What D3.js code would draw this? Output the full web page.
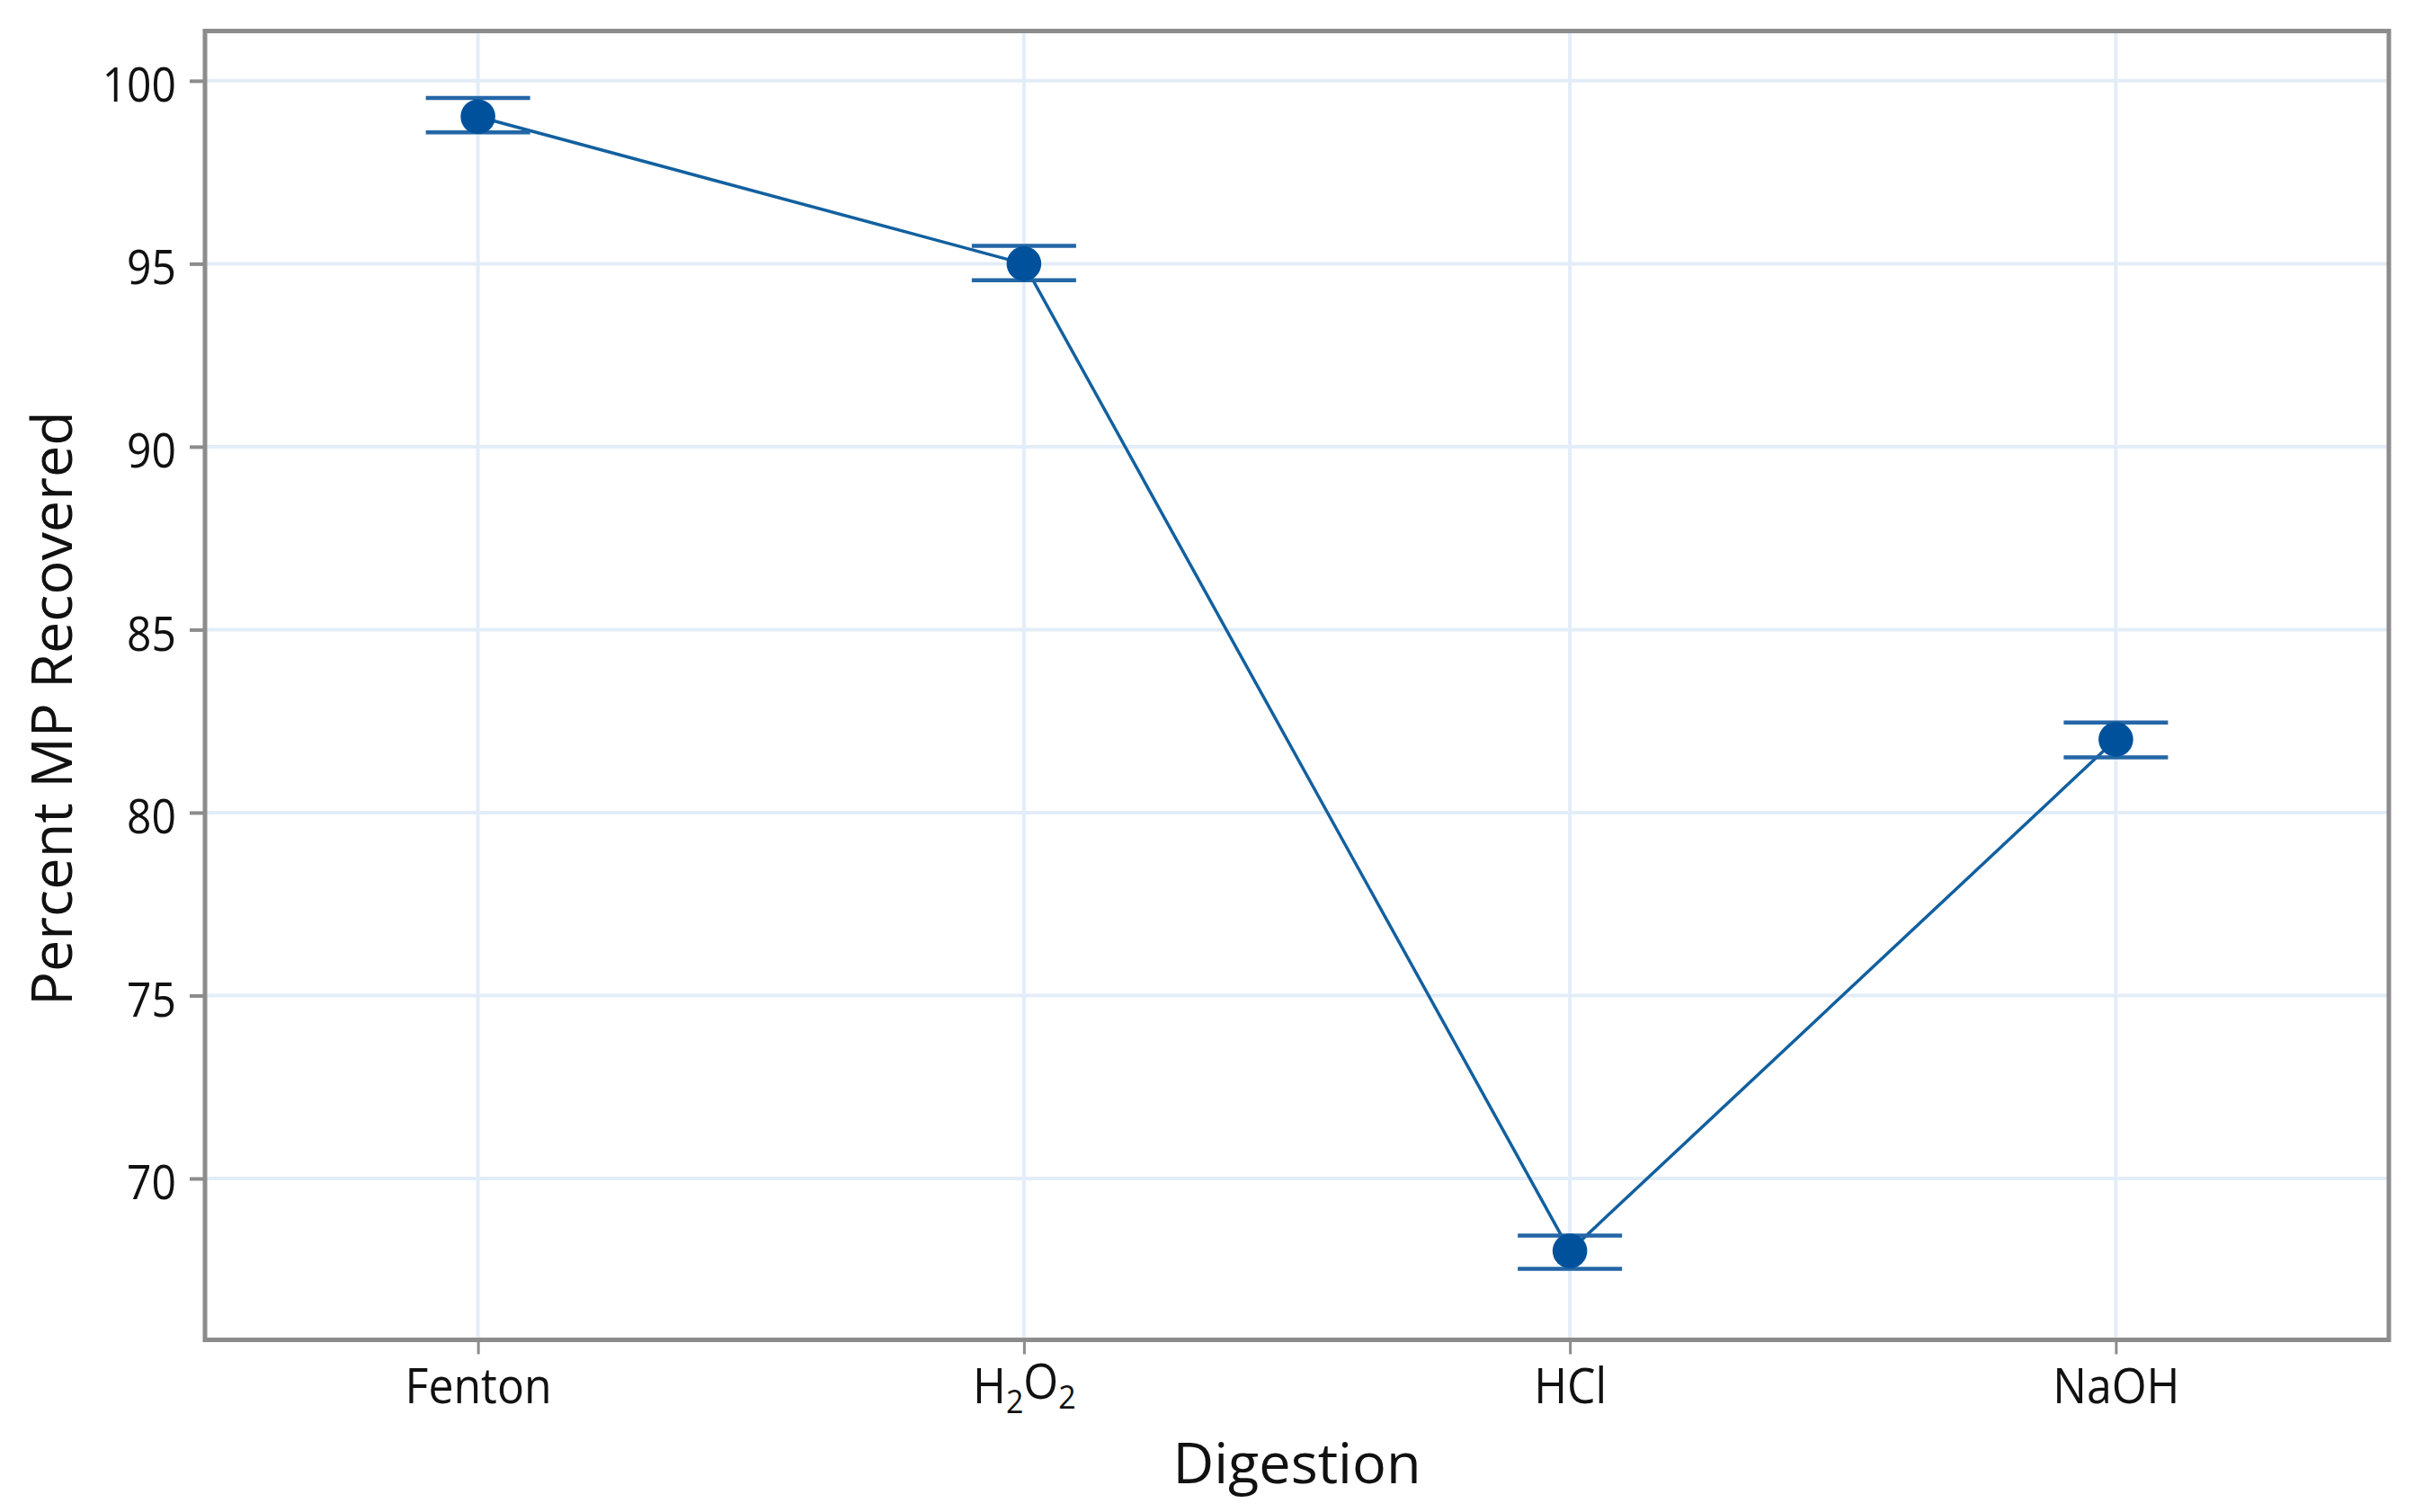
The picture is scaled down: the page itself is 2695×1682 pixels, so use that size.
<!DOCTYPE html>
<html>
<head>
<meta charset="utf-8">
<script src="https://cdn.jsdelivr.net/npm/d3@7"></script>
<style>
  body { margin: 0; background: #fff; }
  text { font-family: "Open Sans", "Noto Sans", sans-serif; fill: #111; }
</style>
</head>
<body>
<div id="plot"></div>
<script>
// Digestion methods and mean recovery (%), with error bar limits
const digestions = ['Fenton', 'H2O2', 'HCl', 'NaOH'];
const meanRecovered = [99.02, 95.0, 68.02, 82.0];
const lowerBound = [98.59, 94.55, 67.53, 81.51];
const upperBound = [99.53, 95.49, 68.44, 82.46];
const yTicks = [70, 75, 80, 85, 90, 95, 100];

const W = 2695, H = 1682;
const frame = { left: 228, right: 2657, top: 34.5, bottom: 1490.5 };

const svg = d3.select('#plot').append('svg')
  .attr('width', W)
  .attr('height', H);

svg.append('rect').attr('width', W).attr('height', H).attr('fill', '#fff');

const x = d3.scalePoint().domain(digestions).range([frame.left, frame.right]).padding(0.5);
const y = d3.scaleLinear().domain([65.59, 101.36]).range([frame.bottom, frame.top]);

const data = digestions.map((d, i) => ({
  name: d, mean: meanRecovered[i], lo: lowerBound[i], hi: upperBound[i]
}));

// grid
const grid = svg.append('g').attr('class', 'grid');
grid.selectAll('line.h')
  .data(yTicks)
  .enter().append('line')
  .attr('class', 'h')
  .attr('x1', frame.left).attr('x2', frame.right)
  .attr('y1', d => y(d)).attr('y2', d => y(d))
  .attr('stroke', '#e3edf8').attr('stroke-width', 4);
grid.selectAll('line.v')
  .data(digestions)
  .enter().append('line')
  .attr('class', 'v')
  .attr('x1', d => x(d)).attr('x2', d => x(d))
  .attr('y1', frame.top).attr('y2', frame.bottom)
  .attr('stroke', '#e3edf8').attr('stroke-width', 4);

// axes (tick text stretched a little vertically, the source font is narrow)
const yAxis = svg.append('g')
  .attr('transform', `translate(${frame.left},0)`)
  .call(d3.axisLeft(y).tickValues(yTicks).tickSize(17).tickPadding(15));
yAxis.select('.domain').remove();
yAxis.selectAll('line').attr('stroke', '#8c8c8c').attr('stroke-width', 4);
yAxis.selectAll('text')
  .attr('dy', '0.42em')
  .attr('transform', 'scale(1,1.12)')
  .style('font-size', '48px')
  .attr('fill', '#111');

const xAxis = svg.append('g')
  .attr('transform', `translate(0,${frame.bottom})`)
  .call(d3.axisBottom(x).tickSize(16).tickPadding(14));
xAxis.select('.domain').remove();
xAxis.selectAll('line').attr('stroke', '#8c8c8c').attr('stroke-width', 3);
xAxis.selectAll('text')
  .attr('transform', 'scale(1,1.08)')
  .style('font-size', '50px')
  .attr('fill', '#111')
  .each(function (d) {
    // chemical formulas: digits become subscripts
    const parts = d.match(/[A-Za-z]+|\d+/g);
    if (parts.length === 1) return;
    const t = d3.select(this).text('');
    let sub = false;
    parts.forEach(p => {
      const isNum = /\d/.test(p);
      const ts = t.append('tspan').text(p);
      if (isNum && !sub) { ts.attr('dy', '0.3em').style('font-size', '34px'); sub = true; }
      else if (!isNum && sub) { ts.attr('dy', '-0.3em'); sub = false; }
      else if (isNum) ts.style('font-size', '34px');
    });
  });

// frame
svg.append('rect')
  .attr('x', frame.left).attr('y', frame.top)
  .attr('width', frame.right - frame.left)
  .attr('height', frame.bottom - frame.top)
  .attr('fill', 'none')
  .attr('stroke', '#8c8c8c')
  .attr('stroke-width', 5);

// connecting line
svg.append('path')
  .datum(data)
  .attr('fill', 'none')
  .attr('stroke', '#12609f')
  .attr('stroke-width', 3.5)
  .attr('d', d3.line().x(d => x(d.name)).y(d => y(d.mean)));

// error bars
const eb = svg.append('g').attr('class', 'errorbars')
  .attr('stroke', '#2466a6').attr('stroke-width', 4.5);
data.forEach(d => {
  const cx = x(d.name);
  eb.append('line').attr('x1', cx).attr('x2', cx).attr('y1', y(d.lo)).attr('y2', y(d.hi));
  eb.append('line').attr('x1', cx - 58).attr('x2', cx + 58).attr('y1', y(d.lo)).attr('y2', y(d.lo));
  eb.append('line').attr('x1', cx - 58).attr('x2', cx + 58).attr('y1', y(d.hi)).attr('y2', y(d.hi));
});

// means
svg.selectAll('circle.mean')
  .data(data)
  .enter().append('circle')
  .attr('class', 'mean')
  .attr('cx', d => x(d.name))
  .attr('cy', d => y(d.mean))
  .attr('r', 19.3)
  .attr('fill', '#00519c');

// axis titles
svg.append('text')
  .attr('x', (frame.left + frame.right) / 2)
  .attr('y', 1650)
  .attr('text-anchor', 'middle')
  .style('font-size', '63px')
  .text('Digestion');

svg.append('text')
  .attr('transform', 'translate(80,788) rotate(-90)')
  .attr('text-anchor', 'middle')
  .style('font-size', '63px')
  .text('Percent MP Recovered');
</script>
</body>
</html>
